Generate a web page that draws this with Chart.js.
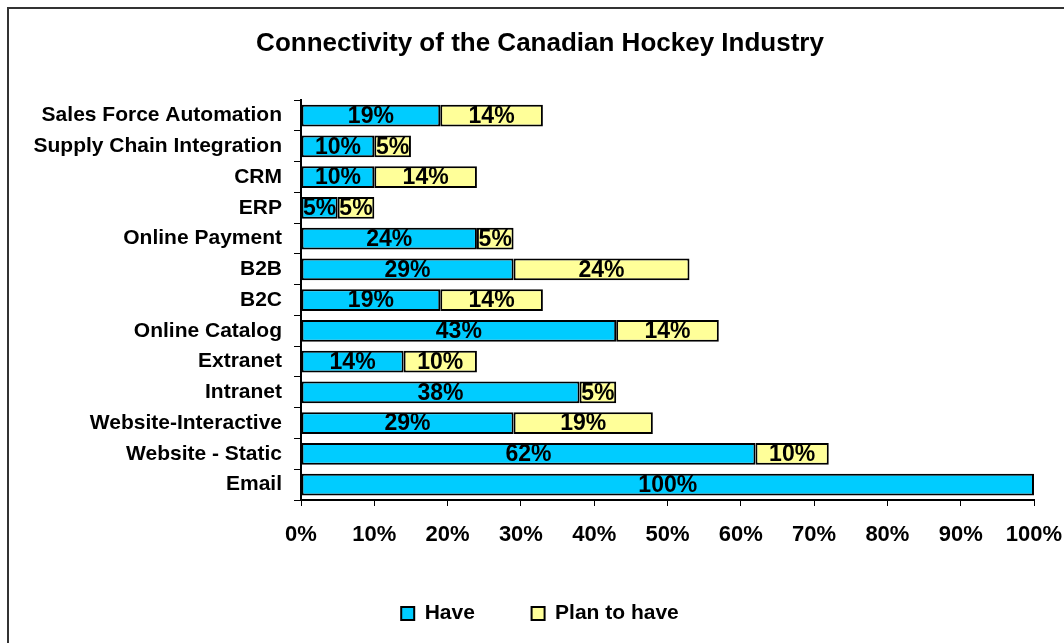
<!DOCTYPE html>
<html>
<head>
<meta charset="utf-8">
<script src="https://cdn.jsdelivr.net/npm/chart.js@4.4.0/dist/chart.umd.min.js"></script>
<style>
  html, body { margin: 0; padding: 0; background: #fff; }
  #wrap { width: 1064px; height: 643px; }
</style>
</head>
<body>
<div id="wrap"><canvas id="hockey-chart" width="1064" height="643"></canvas></div>
<script>
const hockeyChart = document.getElementById("hockey-chart");

const categories = [
  "Sales Force Automation", "Supply Chain Integration", "CRM", "ERP",
  "Online Payment", "B2B", "B2C", "Online Catalog", "Extranet",
  "Intranet", "Website-Interactive", "Website - Static", "Email"
];
const haveValues = [19, 10, 10, 5, 24, 29, 19, 43, 14, 38, 29, 62, 100];
const planValues = [14, 5, 14, 5, 5, 24, 14, 14, 10, 5, 19, 10, null];
const xTicks = [0, 10, 20, 30, 40, 50, 60, 70, 80, 90, 100];

const FONT = "'Liberation Sans', Arial, sans-serif";

// percentage text centred in every bar segment
const segmentLabels = {
  id: "segmentLabels",
  afterDatasetsDraw(chart) {
    const ctx = chart.ctx;
    ctx.save();
    ctx.font = "bold 23px " + FONT;
    ctx.fillStyle = "#000";
    ctx.textAlign = "center";
    ctx.textBaseline = "middle";
    chart.data.datasets.forEach((ds, i) => {
      const meta = chart.getDatasetMeta(i);
      meta.data.forEach((bar, j) => {
        const v = ds.data[j];
        if (v == null || v === 0) return;
        const p = bar.getCenterPoint();
        ctx.fillText(v + "%", p.x, p.y + 1);
      });
    });
    ctx.restore();
  }
};

// outer frame of the chart
const frame = {
  id: "frame",
  afterDraw(chart) {
    const ctx = chart.ctx;
    ctx.save();
    ctx.strokeStyle = "#333";
    ctx.lineWidth = 2;
    ctx.strokeRect(8, 8, 1200, 800);
    ctx.restore();
  }
};

new Chart(hockeyChart, {
  type: "bar",
  data: {
    labels: categories,
    datasets: [
      {
        label: "Have",
        data: haveValues,
        backgroundColor: "#00CCFF",
        borderColor: "#000",
        borderWidth: 2,
        borderSkipped: false,
      },
      {
        label: "Plan to have",
        data: planValues,
        backgroundColor: "#FFFF99",
        borderColor: "#000",
        borderWidth: 2,
        borderSkipped: false,
      },
    ],
  },
  options: {
    indexAxis: "y",
    responsive: false,
    animation: false,
    layout: { padding: { left: 16, right: 0, top: 0, bottom: 9 } },
    datasets: { bar: { categoryPercentage: 1, barPercentage: 0.71 } },
    scales: {
      x: {
        stacked: true,
        min: 0,
        max: 100,
        afterBuildTicks(scale) {
          scale.ticks = xTicks.map(v => ({ value: v }));
        },
        afterFit(scale) {
          scale.height = 93;
          scale.paddingRight = 30;
        },
        border: { display: true, color: "#000", width: 2 },
        grid: { drawOnChartArea: false, drawTicks: true, tickLength: 6, color: "#000", lineWidth: 1 },
        ticks: {
          color: "#000",
          padding: 16,
          font: { family: FONT, size: 22, weight: "bold" },
          callback: v => v + "%",
        },
      },
      y: {
        stacked: true,
        afterFit(scale) { scale.width = 285; },
        border: { display: true, color: "#000", width: 2 },
        grid: { offset: true, drawOnChartArea: false, drawTicks: true, tickLength: 7, color: "#000", lineWidth: 1 },
        ticks: {
          color: "#000",
          padding: 12,
          font: { family: FONT, size: 21, weight: "bold" },
        },
      },
    },
    plugins: {
      title: {
        display: true,
        text: "Connectivity of the Canadian Hockey Industry",
        color: "#000",
        font: { family: FONT, size: 26, weight: "bold" },
        padding: { top: 28, bottom: 41 },
      },
      legend: {
        position: "bottom",
        labels: {
          color: "#000",
          boxWidth: 13,
          boxHeight: 13,
          padding: 10,
          font: { family: FONT, size: 21, weight: "bold" },
          generateLabels(chart) {
            const items = Chart.defaults.plugins.legend.labels.generateLabels(chart);
            // extra room after the first entry
            items[0].text = items[0].text + "        ";
            return items;
          },
        },
      },
      tooltip: { enabled: false },
    },
  },
  plugins: [segmentLabels, frame],
});
</script>
</body>
</html>
